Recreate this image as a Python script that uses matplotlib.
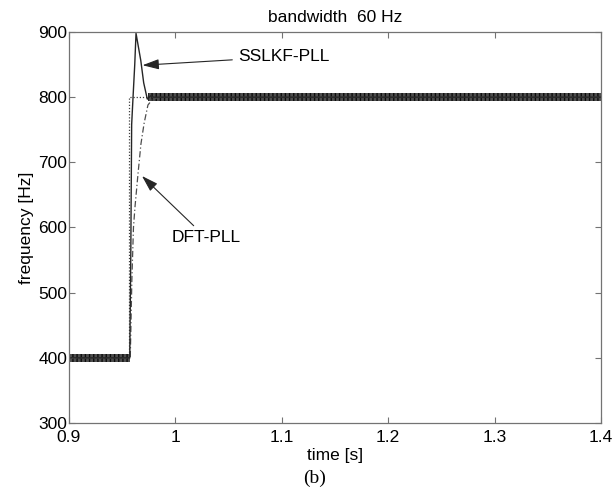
import matplotlib
matplotlib.use("Agg")
import matplotlib.pyplot as plt

# ---- data ----
ref_t = [0.90, 0.957, 0.957, 1.40]
ref_f = [400, 400, 800, 800]

sslkf_t = [0.90, 0.9575, 0.9585, 0.9593, 0.9606, 0.9622, 0.9634, 0.9679, 0.9706, 0.9740, 0.9770, 0.9800, 1.40]
sslkf_f = [400, 400, 560, 758, 800, 850, 898, 856, 822, 797, 802, 800, 800]

dft_t = [0.90, 0.9580, 0.9595, 0.9610, 0.9624, 0.9653, 0.9680, 0.9710, 0.9746, 0.9790, 0.9860, 1.40]
dft_f = [400, 400, 520, 600, 631, 683, 728, 760, 788, 797, 800, 800]

# ripple bands (visible thickness of the oscillating traces)
band400_t = [0.90, 0.9575]
band400_lo = [394, 394]
band400_hi = [406, 406]
band800_t = [0.9745, 1.40]
band800_lo = [794, 794]
band800_hi = [806, 806]

xticks = [0.9, 1.0, 1.1, 1.2, 1.3, 1.4]
xticklabels = ["0.9", "1", "1.1", "1.2", "1.3", "1.4"]
yticks = [300, 400, 500, 600, 700, 800, 900]

plt.rcParams['font.family'] = ['Liberation Sans', 'DejaVu Sans']
FS = 12.5

fig = plt.figure(figsize=(6.16, 4.88), dpi=100)
ax = fig.add_axes([68.5 / 616, 65 / 488, (601 - 68.5) / 616, (423 - 32) / 488])

ax.plot(ref_t, ref_f, linestyle=(0, (1, 1.5)), color='0.25', lw=0.9)
ax.plot(dft_t, dft_f, linestyle=(0, (5, 2, 1, 2)), color='0.3', lw=0.9)
ax.plot(sslkf_t, sslkf_f, color='0.15', lw=1.0)
ax.fill_between(band400_t, band400_lo, band400_hi, facecolor='0.3', edgecolor='0.05',
                hatch='||||', lw=0)
ax.fill_between(band800_t, band800_lo, band800_hi, facecolor='0.3', edgecolor='0.05',
                hatch='||||', lw=0)

ax.set_xlim(0.9, 1.4)
ax.set_ylim(300, 900)
ax.set_xticks(xticks)
ax.set_xticklabels(xticklabels)
ax.set_yticks(yticks)
ax.tick_params(direction='in', length=4, width=0.8, color='0.45', labelsize=FS,
               top=True, right=True, pad=1)
ax.tick_params(axis='x', pad=5)
for s in ax.spines.values():
    s.set_color('0.45')
    s.set_linewidth(0.9)

ax.set_title("bandwidth  60 Hz", fontsize=FS, pad=7)
ax.set_xlabel("time [s]", fontsize=FS, labelpad=2)
ax.set_ylabel("frequency [Hz]", fontsize=FS, labelpad=3)

arrow = dict(arrowstyle='-|>,head_length=0.8,head_width=0.25', color='0.15', lw=0.8,
             shrinkA=2, shrinkB=0)
ax.annotate("SSLKF-PLL", xy=(0.9695, 849), xytext=(1.059, 862),
            fontsize=FS, va='center', ha='left', arrowprops=arrow)
ax.annotate("DFT-PLL", xy=(0.9690, 679), xytext=(0.997, 584),
            fontsize=FS, va='center', ha='left', arrowprops=arrow)

fig.text(0.51, 0.003, "(b)", family='Liberation Serif', fontsize=14, ha='center', va='bottom')

fig.savefig("out.png", dpi=100)
